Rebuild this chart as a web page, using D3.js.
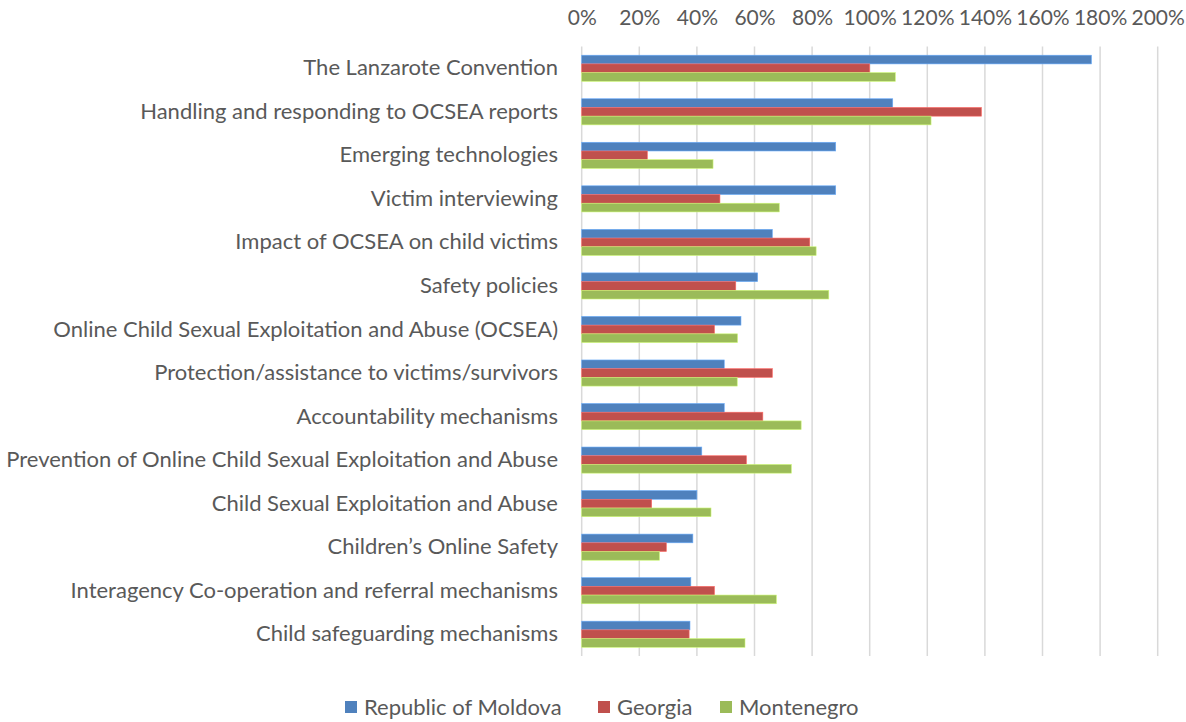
<!DOCTYPE html>
<html><head><meta charset="utf-8">
<script src="https://cdn.jsdelivr.net/npm/d3@7"></script>
<style>body{margin:0;background:#fff}svg{display:block}</style>
</head><body>
<svg id="c" width="1186" height="722"></svg>
<script>
const categories = ["The Lanzarote Convention","Handling and responding to OCSEA reports","Emerging technologies","Victim interviewing","Impact of OCSEA on child victims","Safety policies","Online Child Sexual Exploitation and Abuse (OCSEA)","Protection/assistance to victims/survivors","Accountability mechanisms","Prevention of Online Child Sexual Exploitation and Abuse","Child Sexual Exploitation and Abuse","Children\u2019s Online Safety","Interagency Co-operation and referral mechanisms","Child safeguarding mechanisms"];
const seriesNames = ["Republic of Moldova","Georgia","Montenegro"];
const moldova =    [177, 108, 88.2, 88.2, 66.2, 61.1, 55.3, 49.5, 49.5, 41.7, 40.0, 38.6, 37.9, 37.6];
const georgia =    [100, 138.8, 22.8, 48.0, 79.2, 53.5, 46.1, 66.2, 62.9, 57.2, 24.3, 29.4, 46.1, 37.3];
const montenegro = [108.9, 121.3, 45.6, 68.6, 81.4, 85.8, 54.1, 54.0, 76.2, 72.8, 44.9, 27.0, 67.6, 56.7];
const tickValues = [0,20,40,60,80,100,120,140,160,180,200];
const colors = ["#4F81BD","#C0504D","#9BBB59"];
const seriesValues = [moldova, georgia, montenegro];

const svg = d3.select("#c");
const font = "Lato, 'Open Sans', sans-serif";
const x = d3.scaleLinear().domain([0,200]).range([581.7, 1157.7]);
const y = d3.scaleBand().domain(categories).range([46.5, 656]).paddingInner(0.4).paddingOuter(0.2);
const sub = d3.scaleBand().domain(seriesNames).range([0, y.bandwidth()]);

svg.append("g").selectAll("line").data(tickValues).join("line")
  .attr("x1", d=>x(d)).attr("x2", d=>x(d)).attr("y1", 46.5).attr("y2", 656)
  .attr("stroke", "#d9d9d9").attr("stroke-width", 1.5);

const ax = svg.append("g").attr("transform","translate(0,18)")
  .call(d3.axisTop(x).tickValues(tickValues).tickFormat(d=>d+"%").tickSize(0).tickPadding(0));
ax.select(".domain").remove();
ax.selectAll("text").attr("font-family", font).attr("font-size", 21).attr("fill","#595959")
  .attr("dy","0.35em");

const groups = svg.append("g").selectAll("g").data(categories).join("g")
  .attr("transform", d=>`translate(0,${y(d)})`);
groups.selectAll("rect").data((c,i)=>seriesNames.map((s,j)=>({s, v: seriesValues[j][i], j}))).join("rect")
  .attr("x", x(0)).attr("y", d=>sub(d.s)).attr("width", d=>x(d.v)-x(0)).attr("height", sub.bandwidth())
  .attr("fill", d=>colors[d.j]).attr("stroke", d=>d3.color(colors[d.j]).brighter(0.8)).attr("stroke-width",0.6);

const yl = svg.append("g").attr("transform", "translate(558,0)")
  .call(d3.axisLeft(y).tickSize(0).tickPadding(0));
yl.select(".domain").remove();
yl.selectAll("text").attr("font-family", font).attr("font-size", 22).attr("fill","#595959");

const legX = [345, 598, 720];
const leg = svg.append("g").selectAll("g").data(seriesNames).join("g")
  .attr("transform", (d,i)=>`translate(${legX[i]},707)`);
leg.append("rect").attr("x",0).attr("y",-6).attr("width",12).attr("height",12).attr("fill",(d,i)=>colors[i]);
leg.append("text").attr("x",19).attr("dy","0.35em").text(d=>d)
  .attr("font-family", font).attr("font-size", 22).attr("fill","#595959");
</script>
</body></html>
